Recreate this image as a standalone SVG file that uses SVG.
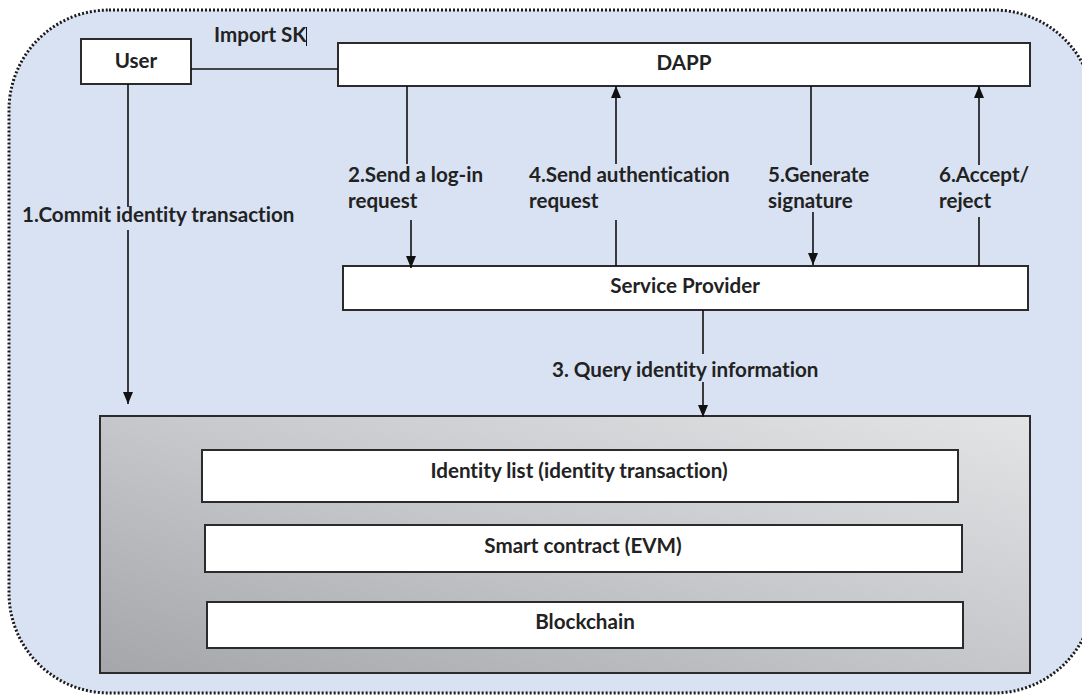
<svg xmlns="http://www.w3.org/2000/svg" width="1082" height="695" viewBox="0 0 1082 695">
  <style>
    .box { fill: #ffffff; stroke: #2b2b2b; stroke-width: 2; }
    .lbl { font-family: Lato, "Open Sans", "Liberation Sans", sans-serif; font-weight: bold; font-size: 20.6px; fill: #222222; font-variant-ligatures: none; font-feature-settings: "liga" 0; }
    .mid { text-anchor: middle; }
    .wire { stroke: #111111; stroke-width: 1.6; fill: none; }
  </style>
  <defs>
    <marker id="arrow" viewBox="0 0 12 12" refX="12" refY="6" markerWidth="12" markerHeight="12" markerUnits="userSpaceOnUse" orient="auto">
      <path d="M0,1 L12,6 L0,11 Z" fill="#111111"/>
    </marker>
    <linearGradient id="layerFill" x1="0" y1="1" x2="1" y2="0">
      <stop offset="0" stop-color="#a4a6aa"/>
      <stop offset="0.5" stop-color="#c6c7ca"/>
      <stop offset="1" stop-color="#e3e4e6"/>
    </linearGradient>
  </defs>

  <!-- system boundary -->
  <rect id="boundary" x="9" y="10" width="1085" height="683" rx="100" ry="100" fill="#d9e2f3" stroke="#1a1a1a" stroke-width="3" stroke-dasharray="2 2"/>

  <g id="user">
    <rect class="box" x="81" y="39" width="110" height="45"/>
    <text class="lbl mid" x="136" y="68">User</text>
  </g>

  <g id="dapp">
    <rect class="box" x="338" y="43" width="692" height="43"/>
    <text class="lbl mid" x="684" y="70">DAPP</text>
  </g>

  <g id="service-provider">
    <rect class="box" x="343" y="266" width="685" height="44"/>
    <text class="lbl mid" x="685" y="293">Service Provider</text>
  </g>

  <g id="ledger">
    <rect x="100" y="416" width="930" height="257" fill="url(#layerFill)" stroke="#2b2b2b" stroke-width="2"/>
    <g id="identity-list">
      <rect class="box" x="202" y="450" width="756" height="52"/>
      <text class="lbl mid" x="579" y="478">Identity list (identity transaction)</text>
    </g>
    <g id="smart-contract">
      <rect class="box" x="205" y="525" width="757" height="47"/>
      <text class="lbl mid" x="583" y="553">Smart contract (EVM)</text>
    </g>
    <g id="blockchain">
      <rect class="box" x="207" y="602" width="756" height="46"/>
      <text class="lbl mid" x="585" y="629">Blockchain</text>
    </g>
  </g>

  <g id="connectors">
    <!-- User to DAPP, key import -->
    <line class="wire" x1="191" y1="69" x2="338" y2="69"/>
    <!-- 1 -->
    <line class="wire" x1="128" y1="84" x2="128" y2="207"/>
    <line class="wire" x1="128" y1="230" x2="128" y2="404" marker-end="url(#arrow)"/>
    <!-- 2 -->
    <line class="wire" x1="407" y1="86" x2="407" y2="164"/>
    <line class="wire" x1="411" y1="220" x2="411" y2="268" marker-end="url(#arrow)"/>
    <!-- 4 -->
    <line class="wire" x1="616" y1="266" x2="616" y2="220"/>
    <line class="wire" x1="616" y1="164" x2="616" y2="86" marker-end="url(#arrow)"/>
    <!-- 5 -->
    <line class="wire" x1="811" y1="86" x2="811" y2="165"/>
    <line class="wire" x1="813" y1="212" x2="813" y2="265" marker-end="url(#arrow)"/>
    <!-- 6 -->
    <line class="wire" x1="979" y1="266" x2="979" y2="217"/>
    <line class="wire" x1="979" y1="165" x2="979" y2="86" marker-end="url(#arrow)"/>
    <!-- 3 -->
    <line class="wire" x1="703" y1="310" x2="703" y2="354"/>
    <line class="wire" x1="703" y1="382" x2="703" y2="417" marker-end="url(#arrow)"/>
  </g>

  <g id="labels">
    <text class="lbl" x="214" y="42">Import SK</text>
    <line x1="306.5" y1="27" x2="306.5" y2="46" stroke="#111111" stroke-width="1"/>
    <text class="lbl" x="22" y="222">1.Commit identity transaction</text>
    <text class="lbl" x="348" y="182">2.Send a log-in</text>
    <text class="lbl" x="348" y="208">request</text>
    <text class="lbl" x="552" y="377">3. Query identity information</text>
    <text class="lbl" x="529" y="182">4.Send authentication</text>
    <text class="lbl" x="529" y="208">request</text>
    <text class="lbl" x="768" y="182">5.Generate</text>
    <text class="lbl" x="768" y="208">signature</text>
    <text class="lbl" x="939" y="182">6.Accept/</text>
    <text class="lbl" x="939" y="208">reject</text>
  </g>
</svg>
